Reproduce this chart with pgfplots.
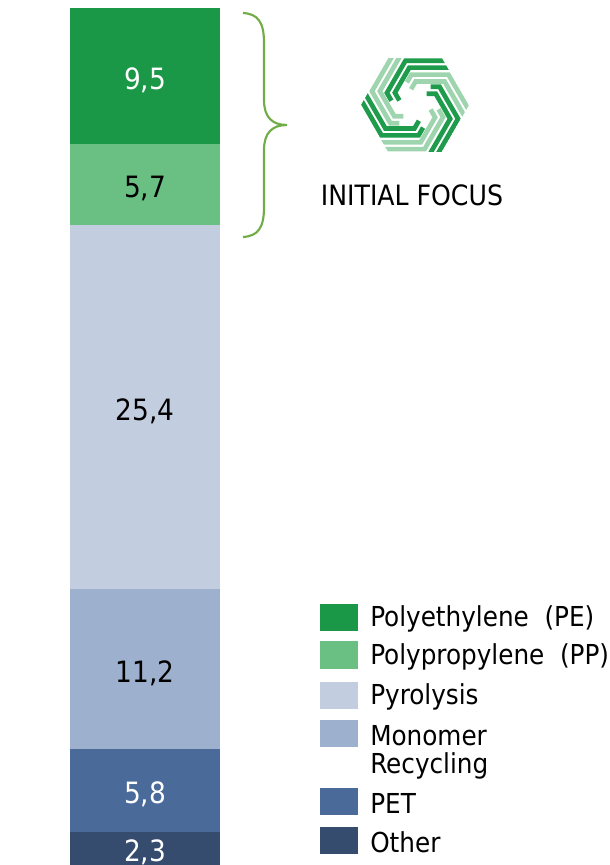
\documentclass[border=0pt]{standalone}
\usepackage{fontspec}
\setmainfont{DejaVu Sans Condensed}
\usepackage{pgfplots}
\pgfplotsset{compat=1.18}
\definecolor{cPE}{HTML}{1B9847}
\definecolor{cPP}{HTML}{6ABF83}
\definecolor{cPyro}{HTML}{C3CDE0}
\definecolor{cMono}{HTML}{9DB0CE}
\definecolor{cPET}{HTML}{4A6A9A}
\definecolor{cOther}{HTML}{364C6E}
\definecolor{cBrace}{HTML}{70AD47}
\definecolor{lgDark}{HTML}{1E9B4B}
\definecolor{lgLight}{HTML}{9FD5AE}
\pgfplotsset{lw/.style={nodes near coords, point meta=explicit symbolic,
    every node near coord/.append style={anchor=center, yshift=-3pt, text=white, font=\fontsize{22}{26}\selectfont}},
  lb/.style={nodes near coords, point meta=explicit symbolic,
    every node near coord/.append style={anchor=center, yshift=-3pt, text=black, font=\fontsize{22}{26}\selectfont}}}
\begin{document}
\begin{tikzpicture}
\useasboundingbox (0pt,0pt) rectangle (457.5pt,648.75pt);
\begin{axis}[at={(52.5pt,0pt)}, anchor=south west, scale only axis,
  width=112.5pt, height=642.75pt, xmin=0, xmax=1, ymin=0, ymax=59.9,
  axis lines=none, ybar stacked, bar width=112.5pt, clip=false]
\addplot[fill=cOther, draw=none, lw] coordinates {(0.5,2.3)[2,3]};
\addplot[fill=cPET, draw=none, lw] coordinates {(0.5,5.8)[5,8]};
\addplot[fill=cMono, draw=none, lb] coordinates {(0.5,11.2)[11,2]};
\addplot[fill=cPyro, draw=none, lb] coordinates {(0.5,25.4)[25,4]};
\addplot[fill=cPP, draw=none, lb] coordinates {(0.5,5.7)[5,7]};
\addplot[fill=cPE, draw=none, lw] coordinates {(0.5,9.5)[9,5]};
\end{axis}
\begin{scope}[x=0.75pt,y=0.75pt]
% brace
\draw[cBrace, line width=1.6pt]
  (243,852) .. controls (258,851) and (264,843) .. (264,822)
  -- (264,765) .. controls (264,748) and (272,740) .. (287,740)
  .. controls (272,740) and (264,732) .. (264,715)
  -- (264,658) .. controls (264,637) and (258,629) .. (243,628);
% logo
\begin{scope}[shift={(415,760)}]
\clip (0:54) -- (60:54) -- (120:54) -- (180:54) -- (240:54) -- (300:54) -- cycle;
\foreach \th/\col in {0/lgDark,60/lgLight,120/lgDark,180/lgLight,240/lgDark,300/lgLight}{
  \begin{scope}[rotate=\th]
  \foreach \oo/\ii/\ee in {2.6/16.4/28.5, 9.4/23.2/35.5}{
    \pgfmathsetmacro\pa{46.77-\oo}
    \pgfmathsetmacro\pb{46.77-\ii}
    \pgfmathsetmacro\pc{46.77+8}
    \pgfmathsetmacro\pd{46.77-\ee}
    \pgfmathsetmacro\hx{(\pb-0.5*\pd)/0.866}
    \draw[\col, line width=3.5pt, line join=miter, miter limit=10]
      ({(\pa-0.5*\pc)/0.866}, {-\pc}) -- ({(\pa+\pb)/1.732},{\pb-\pa})
      -- (\hx,\pd) -- ({\hx-9},\pd);
  }
  \end{scope}
}
\end{scope}
\node[font=\fontsize{21}{24}\selectfont] at (412,670) {INITIAL FOCUS};
% legend
\tikzset{lg/.style={font=\fontsize{20.6}{26}\selectfont, anchor=west, inner sep=0pt}}
\fill[cPE] (320,234) rectangle (358,261);
\node[lg] at (370,246) {Polyethylene~~(PE)};
\fill[cPP] (320,196) rectangle (358,224);
\node[lg] at (370,208) {Polypropylene~~(PP)};
\fill[cPyro] (320,156) rectangle (358,183);
\node[lg] at (370,168) {Pyrolysis};
\fill[cMono] (320,118) rectangle (358,145);
\node[lg] at (370,129) {Monomer};
\node[lg] at (370,99) {Recycling};
\fill[cPET] (320,50) rectangle (358,77);
\node[lg] at (370,62) {PET};
\fill[cOther] (320,11) rectangle (358,38);
\node[lg] at (370,23) {Other};
\end{scope}
\end{tikzpicture}
\end{document}
